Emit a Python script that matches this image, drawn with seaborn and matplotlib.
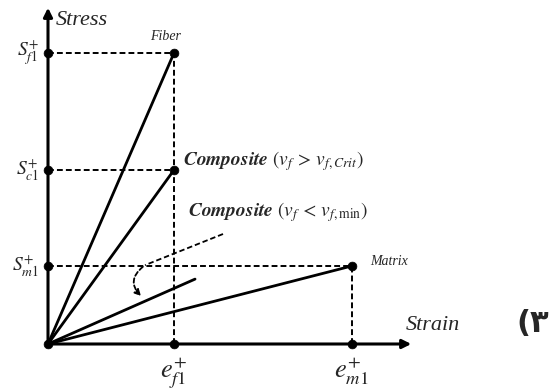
import numpy as np
import pandas as pd
import matplotlib
matplotlib.use("Agg")
import matplotlib.pyplot as plt
import seaborn as sns

# end points of each stress-strain line (strain in units of e_f1, stress in units of S_f1)
curve_names = ['Fiber', 'Composite_hi', 'Composite_lo', 'Matrix']
end_strain = [1.0, 1.0, 1.167, 2.41]
end_stress = [1.0, 0.598, 0.223, 0.268]

# marked levels
stress_levels = [1.0, 0.598, 0.268]
stress_labels = [r'$S^{+}_{f1}$', r'$S^{+}_{c1}$', r'$S^{+}_{m1}$']
strain_levels = [1.0, 2.41]
strain_labels = [r'$e^{+}_{f1}$', r'$e^{+}_{m1}$']

sns.set_style("white")
plt.rcParams['font.family'] = ['Liberation Serif', 'DejaVu Sans']
plt.rcParams['mathtext.fontset'] = 'stix'

fig = plt.figure(figsize=(5.52, 3.92), dpi=100)
ax = fig.add_axes([0, 0, 1, 1])
ax.set_xlim(-48 / 126, 504 / 126)
ax.set_ylim(-48 / 291, 344 / 291)
ax.axis('off')

# axes with arrow heads
ax.annotate('', xy=(2.905, 0), xytext=(0, 0),
            arrowprops=dict(arrowstyle='-|>', color='black', lw=2.2, mutation_scale=13))
ax.annotate('', xy=(0, 1.165), xytext=(0, 0),
            arrowprops=dict(arrowstyle='-|>', color='black', lw=2.2, mutation_scale=13))

# dashed guides
guide_x = [end_strain[0], end_strain[1], end_strain[3]]
ax.hlines(stress_levels, 0, guide_x, colors='black', linestyles=(0, (3, 1.6)), lw=1.4)
ax.vlines([end_strain[0], end_strain[3]], 0, [end_stress[0], end_stress[3]],
          colors='black', linestyles=(0, (3, 1.6)), lw=1.4)

# solid lines from origin
rows = []
for name, sx, sy in zip(curve_names, end_strain, end_stress):
    rows.append({'curve': name, 'strain': 0.0, 'stress': 0.0})
    rows.append({'curve': name, 'strain': sx, 'stress': sy})
df = pd.DataFrame(rows)
sns.lineplot(data=df, x='strain', y='stress', units='curve', estimator=None, sort=False,
             color='black', lw=2.0, ax=ax, legend=False, solid_capstyle='round')

# dots
dots = pd.DataFrame({
    'x': [0.0] + [0.0] * len(stress_levels) + strain_levels + [end_strain[0], end_strain[1], end_strain[3]],
    'y': [0.0] + stress_levels + [0.0] * len(strain_levels) + [end_stress[0], end_stress[1], end_stress[3]],
})
sns.scatterplot(data=dots, x='x', y='y', color='black', s=40, edgecolor='black', ax=ax, zorder=5)

# tick labels
for lvl, lab in zip(stress_levels, stress_labels):
    ax.text(-0.07, lvl, lab, fontsize=14, ha='right', va='center')
for lvl, lab in zip(strain_levels, strain_labels):
    ax.text(lvl, -0.04, lab, fontsize=19, ha='center', va='top')

# axis titles
ax.text(0.06, 1.113, 'Stress', fontsize=16, style='italic', ha='left', va='center')
ax.text(2.84, 0.065, 'Strain', fontsize=16, style='italic', ha='left', va='center')

# curve labels
ax.text(0.93, 1.055, 'Fiber', fontsize=10, style='italic', ha='center', va='center')
ax.text(2.71, 0.285, 'Matrix', fontsize=10, style='italic', ha='center', va='center')
ax.text(1.07, 0.628, r'$\mathbfit{Composite}\ \left(v_f\, >\, v_{f,Crit}\right)$',
        fontsize=14, ha='left', va='center')
ax.text(1.11, 0.452, r'$\mathbfit{Composite}\ \left(v_f\, <\, v_{f,\mathrm{min}}\right)$',
        fontsize=14, ha='left', va='center')

# dashed pointer with curved arrow
ax.plot([1.389, 0.77], [0.378, 0.271], color='black', lw=1.3, ls=(0, (3, 1.6)))
ax.annotate('', xy=(0.754, 0.158), xytext=(0.77, 0.271),
            arrowprops=dict(arrowstyle='-|>', color='black', lw=1.3, ls=(0, (2.5, 1.5)),
                            connectionstyle='arc3,rad=0.6', mutation_scale=9))

# figure number
ax.text(3.85, 0.07, '(\u06f3', fontsize=22, fontweight='bold', family='DejaVu Sans',
        ha='center', va='center')

fig.savefig('out.png', dpi=100)
